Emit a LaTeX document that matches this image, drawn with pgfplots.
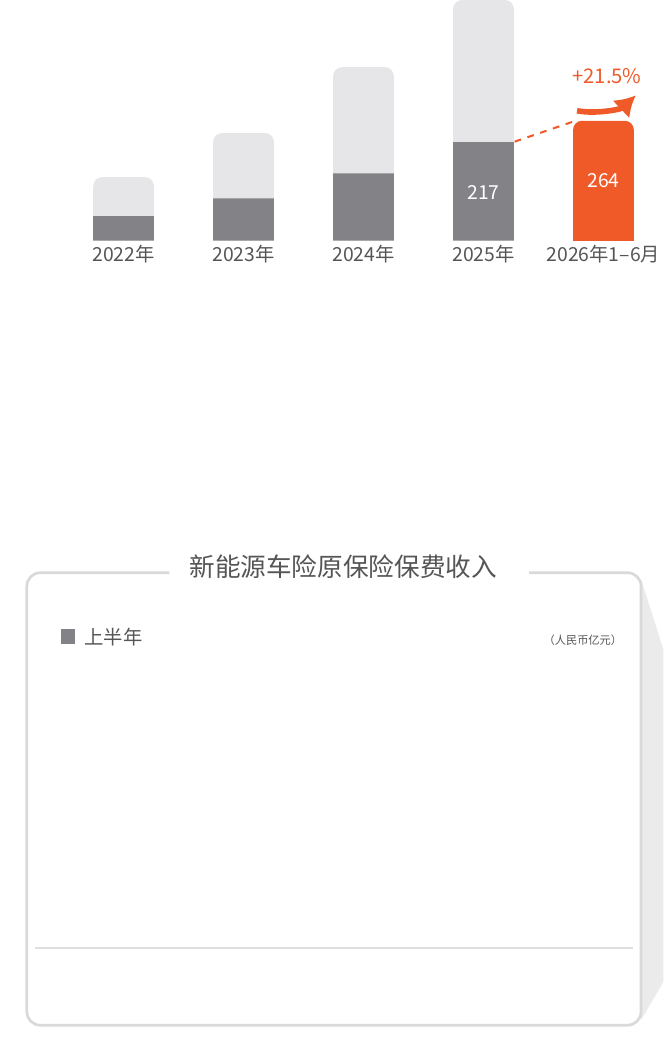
\documentclass[border=0pt]{standalone}
\usepackage{pgfplots}
\pgfplotsset{compat=1.18}
\usetikzlibrary{arrows.meta}
\usepackage{fontspec}
\setmainfont{Noto Sans CJK SC}
\definecolor{dk}{HTML}{838387}
\definecolor{lt}{HTML}{E6E6E8}
\definecolor{og}{HTML}{F05A28}
\definecolor{tx}{HTML}{555555}
\begin{document}
\begin{tikzpicture}[x=0.01cm,y=-0.01cm]
\path[fill=white] (0,0) rectangle (1038,788);
\fill[black!8] (1003,70) -- (1038,180) -- (1038,700) -- (1003,760) -- cycle;
\draw[black!15,line width=1.2pt,rounded corners=6pt] (265,60) -- (42,60) -- (42,768) -- (1003,768) -- (1003,60) -- (828,60);
\node[text=tx,font=\fontsize{11.4}{13}\selectfont] at (537,50) {新能源车险原保险保费收入};
\fill[dk] (96,148) rectangle (118,172);
\node[text=tx,anchor=west,font=\fontsize{8.6}{10}\selectfont] at (120,160) {上半年};
\node[text=tx,font=\fontsize{5}{6}\selectfont\itshape] at (912,165) {（人民币亿元）};
\draw[black!12,line width=0.8pt] (55,647) -- (990,647);
\begin{axis}[at={(53,647)},anchor=south west,scale only axis,
  width=9.38cm,height=4.26cm,xmin=-0.5,xmax=4.5,ymin=0,ymax=600,
  axis lines=none,clip=false,ybar,bar width=0.95cm]
\addplot[fill=lt,draw=none,bar shift=0pt,rounded corners=4pt] coordinates {(0,140) (1,237) (2,382) (3,530)};
\addplot[fill=dk,draw=none,bar shift=0pt] coordinates {(0,54) (1,93) (2,148) (3,217)};
\addplot[fill=og,draw=none,bar shift=0pt,rounded corners=4pt] coordinates {(4,264)};
\addplot[fill=og,draw=none,bar shift=0pt] coordinates {(4,240)};
\foreach \i/\l in {0/2022年,1/2023年,2/2024年,3/2025年,4/2026年1–6月}{
  \edef\tmp{\noexpand\node[text=tx,font=\noexpand\fontsize{8.6}{10}\noexpand\selectfont] at (axis cs:\i,-30) {\l};}\tmp}
\node[white,font=\fontsize{8.6}{10}\selectfont] at (axis cs:3,107) {217};
\node[white,font=\fontsize{8.6}{10}\selectfont] at (axis cs:4,132) {264};
\node[og,font=\fontsize{9}{10}\selectfont] at (axis cs:4.03,362) {+21.5\%};
\draw[og,dashed,line width=0.9pt] (axis cs:3.26,218) -- (axis cs:3.79,266);
\draw[og,line width=2.5pt,-{Latex[length=9pt,width=11pt]}] (axis cs:3.78,286) .. controls (axis cs:3.95,278) and (axis cs:4.15,290) .. (axis cs:4.27,320);
\end{axis}
\end{tikzpicture}
\end{document}
